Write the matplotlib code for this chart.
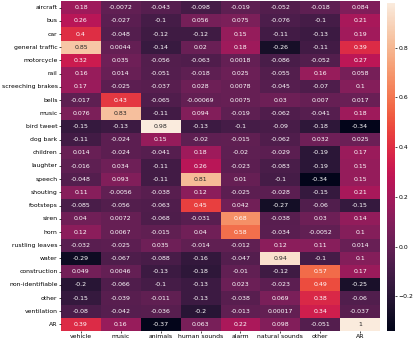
"""Correlation heatmap: sound-source annotations vs. coarse categories."""

import matplotlib
matplotlib.use("Agg")
import matplotlib.pyplot as plt
import numpy as np
import pandas as pd
import seaborn as sns

ROWS = [
    "aircraft", "bus", "car", "general traffic", "motorcycle", "rail",
    "screeching brakes", "bells", "music", "bird tweet", "dog bark",
    "children", "laughter", "speech", "shouting", "footsteps", "siren",
    "horn", "rustling leaves", "water", "construction", "non-identifiable",
    "other", "ventilation", "AR",
]
COLS = ["vehicle", "music", "animals", "human sounds", "alarm",
        "natural sounds", "other", "AR"]

vehicle = [0.18, 0.26, 0.4, 0.85, 0.32, 0.16, 0.17, -0.017, 0.076, -0.15,
           -0.11, 0.014, -0.016, -0.048, 0.11, -0.085, 0.04, 0.12, -0.032,
           -0.29, 0.049, -0.2, -0.15, -0.08, 0.39]
music = [-0.0072, -0.027, -0.048, 0.0044, 0.035, 0.014, -0.025, 0.43, 0.83,
         -0.13, -0.024, -0.024, 0.034, 0.093, -0.0056, -0.056, 0.0072,
         0.0067, -0.025, -0.067, 0.0046, -0.066, -0.039, -0.042, 0.16]
animals = [-0.043, -0.1, -0.12, -0.14, -0.056, -0.051, -0.037, -0.065, -0.11,
           0.98, 0.15, -0.041, -0.11, -0.11, -0.038, -0.063, -0.068, -0.015,
           0.035, -0.088, -0.13, -0.1, -0.011, -0.036, -0.37]
human = [-0.098, 0.056, -0.12, 0.02, -0.063, -0.018, 0.028, -0.00069, 0.094,
         -0.13, -0.02, 0.18, 0.26, 0.81, 0.12, 0.45, -0.031, 0.04, -0.014,
         -0.16, -0.18, -0.13, -0.13, -0.2, 0.063]
alarm = [-0.019, 0.075, 0.15, 0.18, 0.0018, 0.025, 0.0078, 0.0075, -0.019,
         -0.1, -0.015, -0.02, -0.023, 0.01, -0.025, 0.042, 0.68, 0.58,
         -0.012, -0.047, -0.01, 0.023, -0.038, -0.013, 0.22]
natural = [-0.052, -0.076, -0.11, -0.26, -0.086, -0.055, -0.045, 0.03,
           -0.062, -0.09, -0.062, -0.029, -0.083, -0.1, -0.028, -0.27,
           -0.038, -0.034, 0.12, 0.94, -0.12, -0.023, 0.069, 0.00017, 0.098]
other = [-0.018, -0.1, -0.13, -0.11, -0.052, 0.16, -0.07, 0.007, -0.041,
         -0.18, 0.032, -0.19, -0.19, -0.34, -0.15, -0.06, 0.03, -0.0052,
         0.11, -0.1, 0.57, 0.49, 0.38, 0.34, -0.051]
ar = [0.084, 0.21, 0.19, 0.39, 0.27, 0.058, 0.1, 0.017, 0.18, -0.34, 0.025,
      0.17, 0.15, 0.15, 0.21, -0.15, 0.14, 0.1, 0.014, 0.1, 0.17, -0.25,
      -0.06, -0.037, 1]

CBAR_TICKS = [-0.2, 0.0, 0.2, 0.4, 0.6, 0.8]

plt.rcParams.update({"font.size": 4.4})

corr = pd.DataFrame(
    np.column_stack([vehicle, music, animals, human, alarm, natural, other, ar]),
    index=ROWS, columns=COLS,
)

fig = plt.figure(figsize=(4.15, 3.42), dpi=100)
ax = fig.add_axes([61 / 415, 11 / 342, 319 / 415, 330 / 342])
cax = fig.add_axes([387 / 415, 11 / 342, 8 / 415, 328 / 342])

sns.heatmap(corr, ax=ax, cbar_ax=cax, cmap="rocket", vmin=-0.34, vmax=0.98,
            annot=True, fmt=".2g", annot_kws={"size": 4.5})
ax.tick_params(length=1.5, width=0.5, pad=1)
cax.tick_params(length=1.5, width=0.5, pad=1)
cax.set_yticks(CBAR_TICKS)
plt.setp(ax.get_xticklabels(), rotation=0)
plt.setp(ax.get_yticklabels(), rotation=0)

fig.savefig("out.png")
